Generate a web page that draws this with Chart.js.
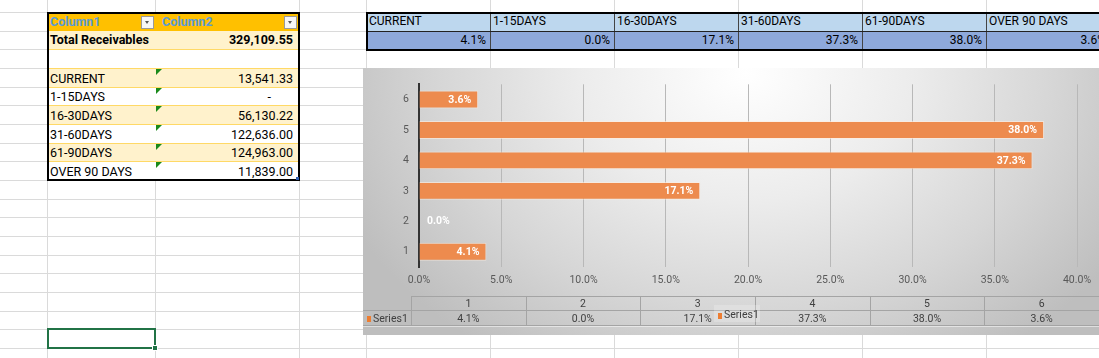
<!DOCTYPE html>
<html><head><meta charset="utf-8">
<script src="https://cdn.jsdelivr.net/npm/chart.js@4.4.1/dist/chart.umd.min.js"></script>
<style>
html,body{margin:0;padding:0;}
body{width:1099px;height:358px;overflow:hidden;position:relative;background:#fff;font-family:Roboto,'Liberation Sans',sans-serif;font-size:12px;color:#000;}
.d{position:absolute;box-sizing:border-box;white-space:nowrap;}
#chartBox{position:absolute;left:363px;top:68px;width:736px;height:267px;
 background:radial-gradient(ellipse 440px 340px at 52% 2%, #ffffff 0%, #ececec 38%, #d6d6d6 70%, #bebebe 100%);}
#c{display:block;}
</style></head>
<body>
<div id="sheet"></div>
<div id="chartBox"><canvas id="c" width="736" height="267"></canvas></div>
<script>
// ---- data ----
const categories = ['1','2','3','4','5','6'];
const series1 = [4.1, 0.0, 17.1, 37.3, 38.0, 3.6];
const bucketNames = ['CURRENT','1-15DAYS','16-30DAYS','31-60DAYS','61-90DAYS','OVER 90 DAYS'];
const amounts = ['13,541.33','-','56,130.22','122,636.00','124,963.00','11,839.00'];
const totalLabel = 'Total Receivables';
const totalValue = '329,109.55';
const headerNames = ['Column1','Column2'];
const percentLabels = ['4.1%','0.0%','17.1%','37.3%','38.0%','3.6%'];

// ---- spreadsheet decoration ----
const rowY=[12,31,49,68,87,105,124,143,161,180,199,217,236,255,273,292,311,329,348];
const colX=[47,155,299,366,490,614,738,862,986];
const sheet=document.getElementById('sheet');
function box(l,t,w,h,css,html){const e=document.createElement('div');e.className='d';
 e.style.cssText=`left:${l}px;top:${t}px;width:${w}px;height:${h}px;`+(css||'');
 if(html!==undefined)e.innerHTML=html;sheet.appendChild(e);return e;}
colX.forEach(x=>box(x,0,1,358,'background:#dadada;'));
rowY.forEach(y=>box(0,y,1099,1,'background:#dadada;'));

// left table
const rowBg=['#FFC000','#FFF2CC','#ffffff','#FFF2CC','#ffffff','#FFF2CC','#ffffff','#FFF2CC','#ffffff'];
for(let k=0;k<9;k++){
  const t=rowY[k],h=rowY[k+1]-rowY[k];
  box(47,t,253,h+1,'background:'+rowBg[k]+';');
  if(k>=2) box(47,t,253,1,'background:#FFD966;');
}
const lh=(k)=>`line-height:${rowY[k+1]-rowY[k]}px;`;
box(50,rowY[0],100,19,lh(0)+'font-weight:bold;font-size:12.5px;color:#5B9BD5;',headerNames[0]);
box(162,rowY[0],100,19,lh(0)+'font-weight:bold;font-size:12.5px;color:#5B9BD5;',headerNames[1]);
[141,284].forEach(x=>{
  box(x,16,13,13,'background:#f7f7f7;border:1px solid #9a9a9a;');
  box(x+4,21,5,3,'border-left:2.5px solid transparent;border-right:2.5px solid transparent;border-top:3px solid #555;width:0;height:0;');
});
box(50,rowY[1],150,18,lh(1)+'font-weight:bold;font-size:12.5px;',totalLabel);
box(155,rowY[1],138,18,lh(1)+'font-weight:bold;font-size:12.5px;text-align:right;',totalValue);
bucketNames.forEach((n,i)=>{
  const k=i+3;
  box(50,rowY[k]+1,105,rowY[k+1]-rowY[k],lh(k)+'font-size:12.5px;',n);
  const pr = amounts[i]==='-'?22:0;
  box(155,rowY[k]+1,138-pr,rowY[k+1]-rowY[k],lh(k)+'font-size:12.5px;text-align:right;',amounts[i]);
  box(156,rowY[k]+1,0,0,'border-top:6px solid #1a8a1a;border-right:6px solid transparent;');
});
box(47,12,253,169,'border:2px solid #000;');
box(296,177,3,3,'background:#2f5fb0;');

// right table
for(let i=0;i<6;i++){
  const x=colX[3+i];
  box(x,12,124,19,'background:#BDD7EE;padding-left:3px;'+lh(0),bucketNames[i]);
  box(x,31,124,19,'background:#8EA9DB;padding-right:4px;text-align:right;'+lh(1),percentLabels[i]);
  if(i>0) box(x,12,1,38,'background:#444;');
}
box(366,31,760,1,'background:#222;');
box(366,12,760,39,'border:2px solid #000;');

// selected cell
box(47,328,109,21,'border:2px solid #217346;');
box(152,345,6,6,'background:#217346;border:1px solid #fff;');

// ---- chart ----
Chart.defaults.font.family="Roboto, 'Liberation Sans', sans-serif";
const labelsPlugin={id:'dl',afterDatasetsDraw(chart){
  const ctx=chart.ctx;const meta=chart.getDatasetMeta(0);
  ctx.save();ctx.font="bold 10.5px Roboto";ctx.fillStyle='#ffffff';ctx.textBaseline='middle';
  meta.data.forEach((bar,i)=>{
    const t=series1[i].toFixed(1)+'%';
    if(series1[i]>0){ctx.textAlign='right';ctx.fillText(t,bar.x-7,bar.y+0.5);}
    else{ctx.textAlign='left';ctx.fillText(t,bar.base+8,bar.y+0.5);}
  });
  ctx.restore();}};
const tablePlugin={id:'dt',afterDraw(chart){
  const ctx=chart.ctx;const W=chart.width;const left=48;const colW=(W-left)/categories.length;
  const y0=228.5,y1=242.5,y2=257.5;
  ctx.save();
  ctx.strokeStyle='#a4a4a4';ctx.lineWidth=1;ctx.beginPath();
  ctx.moveTo(left,y0);ctx.lineTo(W,y0);ctx.moveTo(0,y1);ctx.lineTo(W,y1);ctx.moveTo(0,y2);ctx.lineTo(W,y2);
  for(let i=0;i<categories.length;i++){const x=Math.round(left+i*colW)+0.5;ctx.moveTo(x,y0);ctx.lineTo(x,y2);}
  ctx.stroke();
  ctx.strokeStyle='rgba(255,255,255,0.5)';ctx.beginPath();ctx.moveTo(0,y2+1);ctx.lineTo(W,y2+1);ctx.stroke();
  ctx.font="10.5px Roboto";ctx.fillStyle='#404040';ctx.textAlign='center';ctx.textBaseline='middle';
  categories.forEach((c,i)=>{const cx=left+(i+0.5)*colW;
    ctx.fillText(c,cx,(y0+y1)/2+0.5);
    ctx.fillText(series1[i].toFixed(1)+'%',cx,(y1+y2)/2+1);});
  ctx.fillStyle='#ED7D31';ctx.fillRect(4,248,4,6);
  ctx.fillStyle='#404040';ctx.textAlign='left';ctx.fillText(chart.data.datasets[0].label,10,251);
  ctx.fillStyle='rgba(255,255,255,0.22)';ctx.fillRect(351,237,46,17);
  ctx.fillStyle='#ED7D31';ctx.fillRect(355,245,4,6);
  ctx.fillStyle='#404040';ctx.fillText(chart.data.datasets[0].label,361,247.5);
  ctx.restore();}};

new Chart(document.getElementById('c'),{
  type:'bar',
  data:{labels:categories,datasets:[{label:'Series1',data:series1,backgroundColor:'#ED8B4E',
    borderColor:'rgba(255,236,222,0.6)',borderWidth:1,barPercentage:0.585,categoryPercentage:1}]},
  options:{
    indexAxis:'y',responsive:false,animation:false,
    layout:{padding:{left:0,right:22,top:13,bottom:48}},
    plugins:{legend:{display:false},tooltip:{enabled:false}},
    scales:{
      x:{min:0,max:40,
        ticks:{stepSize:5,callback:v=>Number(v).toFixed(1)+'%',color:'#595959',font:{size:10.5},padding:7,maxRotation:0,autoSkip:false},
        grid:{color:'#b8b8b8',drawTicks:false},border:{display:false},
        afterFit:s=>{s.height=20;}},
      y:{reverse:true,
        ticks:{color:'#595959',font:{size:10.5},padding:10},
        grid:{display:false,drawTicks:false},border:{display:true,color:'#333',width:2},
        afterFit:s=>{s.width=56;}}
    }
  },
  plugins:[labelsPlugin,tablePlugin]
});
</script>
</body></html>
